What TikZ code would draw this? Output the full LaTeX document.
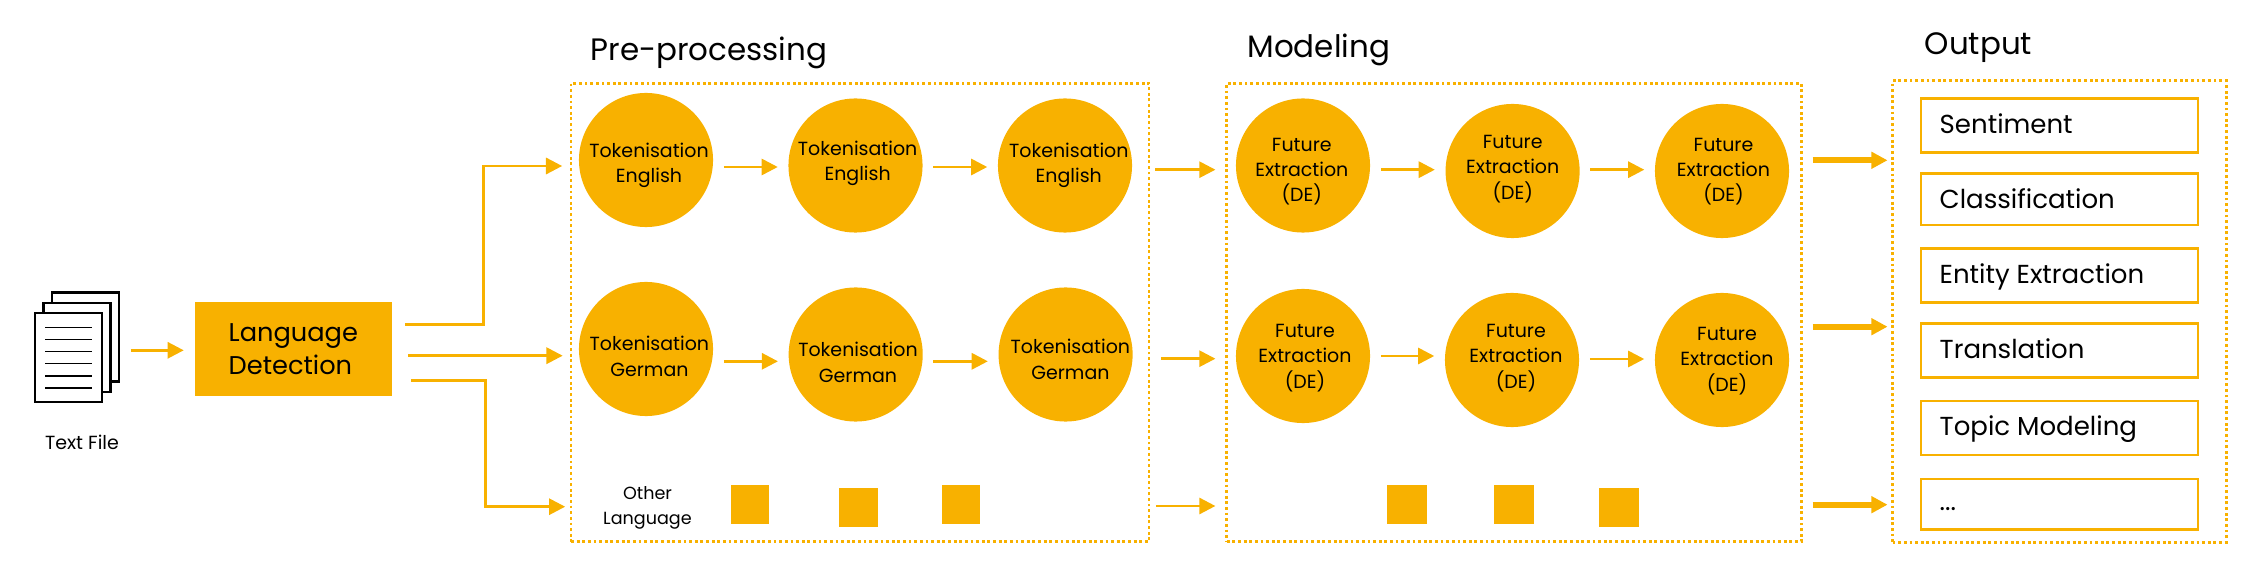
\documentclass[tikz,border=0pt]{standalone}
\usepackage{fontspec}
\setmainfont{Poppins}
\usetikzlibrary{arrows.meta}
\definecolor{amber}{HTML}{F8B100}
\tikzset{
 flow/.style={amber,line width=.75pt,-{Triangle[length=4.6pt,width=4.6pt]}},
 thickflow/.style={flow,line width=1.6pt},
 stage/.style={draw=amber,line width=.8pt,dash pattern=on .8pt off .8pt,inner sep=0pt},
 disc/.style={circle,fill=amber,minimum size=1.34cm,inner sep=0pt},
 small/.style={align=center,inner sep=0pt,font=\fontsize{5.4}{7.2}\selectfont},
 heading/.style={anchor=base west,inner sep=0pt,font=\fontsize{8.8}{10}\selectfont},
 blockbox/.style={fill=amber,inner sep=0pt},
 outbox/.style={draw=amber,line width=.7pt,inner sep=0pt,minimum width=2.77cm},
 outtext/.style={anchor=base west,inner sep=0pt,font=\fontsize{7.4}{9}\selectfont},
 page/.style={draw=black,fill=white,line width=.6pt,minimum width=.67cm,minimum height=.89cm,inner sep=0pt},
}
\begin{document}
\begin{tikzpicture}[x=.01cm,y=-.01cm]
\useasboundingbox (0,0) rectangle (2244,564);
% stages
\node[stage,minimum width=5.775cm,minimum height=4.584cm] (pre) at (860,312.5) {};
\node[stage,minimum width=5.74cm,minimum height=4.584cm] (model) at (1514,312.5) {};
\node[stage,minimum width=3.333cm,minimum height=4.61cm] (out) at (2059.4,311.5) {};
\node[heading] (preT) at (589.9,61) {Pre-processing};
\node[heading] (modelT) at (1246.8,57.5) {Modeling};
\node[heading] (outT) at (1924,55) {Output};
% text file
\node[page] (page3) at (85.5,337) {};
\node[page] (page2) at (77,347.8) {};
\node[page] (page1) at (68.5,357.5) {};
\foreach \y in {327.7,339.7,351.7,363.7,376,388}
 \draw[line width=.4pt] (45,\y)--(92,\y);
\node[small] (fileT) at (82,442) {Text File};
% language box
\node[blockbox,minimum width=1.97cm,minimum height=.94cm] (lang) at (293.5,349) {};
\node[anchor=west,align=left,inner sep=0pt,font=\fontsize{7.3}{9.3}\selectfont] (langT) at (228,349) {Language\\Detection};
\draw[flow,shorten <=.106cm,shorten >=.105cm] (page3.east |- 0,350.3)--(lang.west |- 0,350.3);
\draw[flow,shorten <=.125cm,shorten >=.075cm] (lang.east |- 0,324.3)--(483.7,324.3) |- (pre.west |- 0,166);
\draw[flow,shorten <=.156cm,shorten >=.07cm] (lang.east |- 0,355.7)--(pre.west |- 0,355.7);
\draw[flow,shorten <=.18cm,shorten >=.045cm] (lang.east |- 0,380.7)--(485.6,380.7) |- (pre.west |- 0,506.7);
% circles
\foreach \name/\cx/\cy/\tx/\ty/\lbl in {
 p11/646/160/649/165.5/{Tokenisation\\English},
 p12/855.5/165.5/857.6/163/{Tokenisation\\English},
 p13/1065/165.5/1068.8/165.5/{Tokenisation\\English},
 p21/646/349/649.4/356.5/{Tokenisation\\German},
 p22/855.7/354.5/858/362.5/{Tokenisation\\German},
 p23/1065.6/354.5/1070.4/359.5/{Tokenisation\\German},
 m11/1303/165.5/1301.8/171.5/{Future\\Extraction\\(DE)},
 m12/1512.6/171/1512.7/169/{Future\\Extraction\\(DE)},
 m13/1722/171/1723.5/171.5/{Future\\Extraction\\(DE)},
 m21/1303/356/1305/358/{Future\\Extraction\\(DE)},
 m22/1512/360/1516/358/{Future\\Extraction\\(DE)},
 m23/1722/360/1727/361/{Future\\Extraction\\(DE)}}
{
 \node[disc] (\name) at (\cx,\cy) {};
 \node[small] (\name T) at (\tx,\ty) {\lbl};
}
\foreach \a/\b/\y in {p11/p12/167,p12/p13/167,p21/p22/361.3,p22/p23/361.3,
 m11/m12/169.7,m12/m13/169.7,m21/m22/356,m22/m23/359}
 \draw[flow,shorten <=.1cm,shorten >=.1cm] (\a.east |- 0,\y)--(\b.west |- 0,\y);
% other language
\node[small,font=\fontsize{5}{7.2}\selectfont] (otherT) at (647.5,508) {Other\\Language};
\foreach \name/\x/\y in {ps1/750/504.3,ps2/858.5/507.3,ps3/961/504.3}
 \node[blockbox,minimum width=.385cm,minimum height=.387cm] (\name) at (\x,\y) {};
\foreach \name/\x/\y in {ms1/1406.7/504.3,ms2/1514/504.3,ms3/1619.3/507.3}
 \node[blockbox,minimum width=.4cm,minimum height=.387cm] (\name) at (\x,\y) {};
% between stages
\foreach \s/\y in {5/169.7,11/358.7,5.5/506}
 \draw[flow,shorten <=\s*.01cm,shorten >=.1cm] (pre.east |- 0,\y)--(model.west |- 0,\y);
\foreach \y in {160.3,326.7,504.7}
 \draw[thickflow,shorten <=.1cm,shorten >=.037cm] (model.east |- 0,\y)--(out.west |- 0,\y);
% output
\foreach \name/\cy/\hgt/\base/\lbl in {
 o1/125.5/.54/133.5/Sentiment,
 o2/199.2/.515/208.5/Classification,
 o3/275.5/.54/283.5/Entity Extraction,
 o4/350.4/.54/358.5/Translation,
 o5/428.2/.54/435.5/Topic Modeling}
{
 \node[outbox,minimum height=\hgt cm] (\name) at (2059.5,\cy) {};
 \node[outtext] (\name T) at (1939,\base) {\lbl};
}
\node[outbox,minimum height=.505cm] (o6) at (2059.5,504.2) {};
\node[outtext] (o6T) at (1939,511) {...};
\end{tikzpicture}
\end{document}
